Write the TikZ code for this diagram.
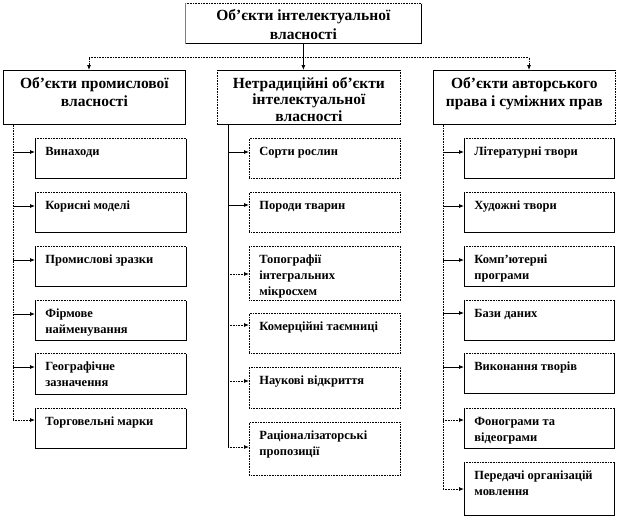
\documentclass[tikz,border=0pt]{standalone}
\usepackage{fontspec}
\setmainfont{Liberation Serif}
\usetikzlibrary{arrows.meta,calc}
\newcommand\itemfont{\fontsize{12.5}{16}\selectfont\bfseries}
\newcommand\headfont{\fontsize{15.5}{18}\selectfont\bfseries}
\newcommand\itxt[3]{\parbox[c][#2pt][t]{#1pt}{\itemfont\raggedright\leftskip=10pt\relax\vspace*{6pt}\strut #3\par}}
\newcommand\htxt[4]{\parbox[c][#2pt][t]{#1pt}{\headfont\baselineskip=#3pt\relax\centering\vspace*{5pt}\strut #4\par}}
\tikzset{
  bx/.style={draw, line width=0.8pt, anchor=north west, inner sep=0pt},
  bxd/.style={bx, dash pattern=on 0.8pt off 0.8pt},
  tipA/.style={-{Latex[length=5pt,width=4pt]}},
  solidc/.style={line width=0.8pt, tipA},
  dotl/.style={line width=0.8pt, dash pattern=on 0.8pt off 0.8pt},
  dotc/.style={dotl, tipA},
}
\newcommand\dedge[2]{\draw[white,line width=1.6pt] (#1) -- (#2); \draw[dotl] (#1) -- (#2);}
\begin{document}
\begin{tikzpicture}[x=1pt,y=-1pt]
\useasboundingbox[fill=white] (0,0) rectangle (617,519);
% top
\node[bx] (top) at (185,3) {\htxt{236}{40}{18}{Об’єкти інтелектуальної\\власності}};
\dedge{top.north west}{top.north east}
\draw[gray,line width=0.8pt] (top.north west) -- (top.south west);
% headers
\node[bx] (lh) at (3,70) {\htxt{182}{54}{18}{Об’єкти промислової\\власності}};
\node[bx] (mh) at (217,70) {\htxt{183}{54}{16.5}{Нетрадиційні об’єкти\\інтелектуальної\\власності}};
\node[bx] (rh) at (433,70) {\htxt{182}{54}{18}{Об’єкти авторського\\права і суміжних прав}};
\dedge{mh.north west}{mh.south west}
\dedge{mh.north east}{mh.south east}
\dedge{rh.north east}{rh.south east}
% top connectors
\coordinate (j) at ($(top.south)+(0,14)$);
\coordinate (la) at ($(lh.north west)+(86,0)$);
\coordinate (ra) at ($(rh.north west)+(96,0)$);
\draw[dotl] (j -| la) -- (j -| ra);
\draw[solidc] (top.south) -- (top.south |- mh.north);
\draw[dotc] (j -| la) -- (la);
\draw[dotc] (j -| ra) -- (ra);
% left column
\node[bx] (l1) at (35,138) {\itxt{151}{40}{Винаходи}};
\node[bx] (l2) at (35,192) {\itxt{151}{40}{Корисні моделі}};
\node[bx] (l3) at (35,246) {\itxt{151}{40}{Промислові зразки}};
\node[bx] (l4) at (35,300) {\itxt{151}{40}{Фірмове\\найменування}};
\node[bx] (l5) at (35,353) {\itxt{151}{41}{Географічне\\зазначення}};
\node[bx] (l6) at (35,408) {\itxt{151}{40}{Торговельні марки}};
\foreach \n in {l1,l2,l3,l4,l5,l6} {\dedge{\n.north west}{\n.north east}}
\coordinate (lt) at ($(lh.south west)+(10,0)$);
\coordinate (al1) at ($(l1.north west)+(0,14)$);
\coordinate (al2) at ($(l2.north west)+(0,14)$);
\coordinate (al3) at ($(l3.north west)+(0,14)$);
\coordinate (al4) at ($(l4.north west)+(0,14)$);
\coordinate (al5) at ($(l5.north west)+(0,14)$);
\coordinate (al6) at ($(l6.north west)+(0,12)$);
\draw[dotl] (lt) -- (lt |- al6);
\foreach \a in {al1,al2,al3,al4,al5} {\draw[solidc] (lt |- \a) -- (\a);}
\draw[dotc] (lt |- al6) -- (al6);
% middle column
\node[bxd] (m1) at (249,138) {\itxt{151}{40}{Сорти рослин}};
\node[bxd] (m2) at (249,192) {\itxt{151}{40}{Породи тварин}};
\node[bxd] (m3) at (249,246) {\itxt{151}{54}{Топографії\\інтегральних\\мікросхем}};
\node[bxd] (m4) at (249,313) {\itxt{151}{40}{Комерційні таємниці}};
\node[bxd] (m5) at (249,367) {\itxt{151}{41}{Наукові відкриття}};
\node[bxd] (m6) at (249,422) {\itxt{151}{53}{Раціоналізаторські\\пропозиції}};
\coordinate (mt) at ($(mh.south west)+(11,0)$);
\coordinate (am1) at ($(m1.north west)+(0,14)$);
\coordinate (am2) at ($(m2.north west)+(0,13)$);
\coordinate (am3) at ($(m3.north west)+(0,28)$);
\coordinate (am4) at ($(m4.north west)+(0,12)$);
\coordinate (am5) at ($(m5.north west)+(0,14)$);
\coordinate (am6) at ($(m6.north west)+(0,25)$);
\draw[line width=0.8pt] (mt) -- (mt |- am6);
\foreach \a in {am1,am2} {\draw[solidc] (mt |- \a) -- (\a);}
\foreach \a in {am3,am4,am5,am6} {\draw[dotc] (mt |- \a) -- (\a);}
% right column
\node[bx] (r1) at (464,138) {\itxt{150}{40}{Літературні твори}};
\node[bx] (r2) at (464,192) {\itxt{150}{40}{Художні твори}};
\node[bx] (r3) at (464,246) {\itxt{150}{40}{Комп’ютерні\\програми}};
\node[bx] (r4) at (464,300) {\itxt{150}{40}{Бази даних}};
\node[bx] (r5) at (464,353) {\itxt{150}{40}{Виконання творів}};
\node[bx] (r6) at (464,408) {\itxt{150}{40}{Фонограми та\\відеограми}};
\node[bx] (r7) at (464,462) {\itxt{150}{53}{Передачі організацій\\мовлення}};
\foreach \n in {r1,r2,r3,r4,r5,r6,r7} {\dedge{\n.north west}{\n.north east}}
\coordinate (rt) at ($(rh.south west)+(10,0)$);
\coordinate (ar1) at ($(r1.north west)+(0,14)$);
\coordinate (ar2) at ($(r2.north west)+(0,14)$);
\coordinate (ar3) at ($(r3.north west)+(0,14)$);
\coordinate (ar4) at ($(r4.north west)+(0,13)$);
\coordinate (ar5) at ($(r5.north west)+(0,14)$);
\coordinate (ar6) at ($(r6.north west)+(0,12)$);
\coordinate (ar7) at ($(r7.north west)+(0,27)$);
\draw[dotl] (rt) -- (rt |- ar7);
\foreach \a in {ar1,ar2,ar3,ar4,ar5} {\draw[solidc] (rt |- \a) -- (\a);}
\foreach \a in {ar6,ar7} {\draw[dotc] (rt |- \a) -- (\a);}
\end{tikzpicture}
\end{document}
